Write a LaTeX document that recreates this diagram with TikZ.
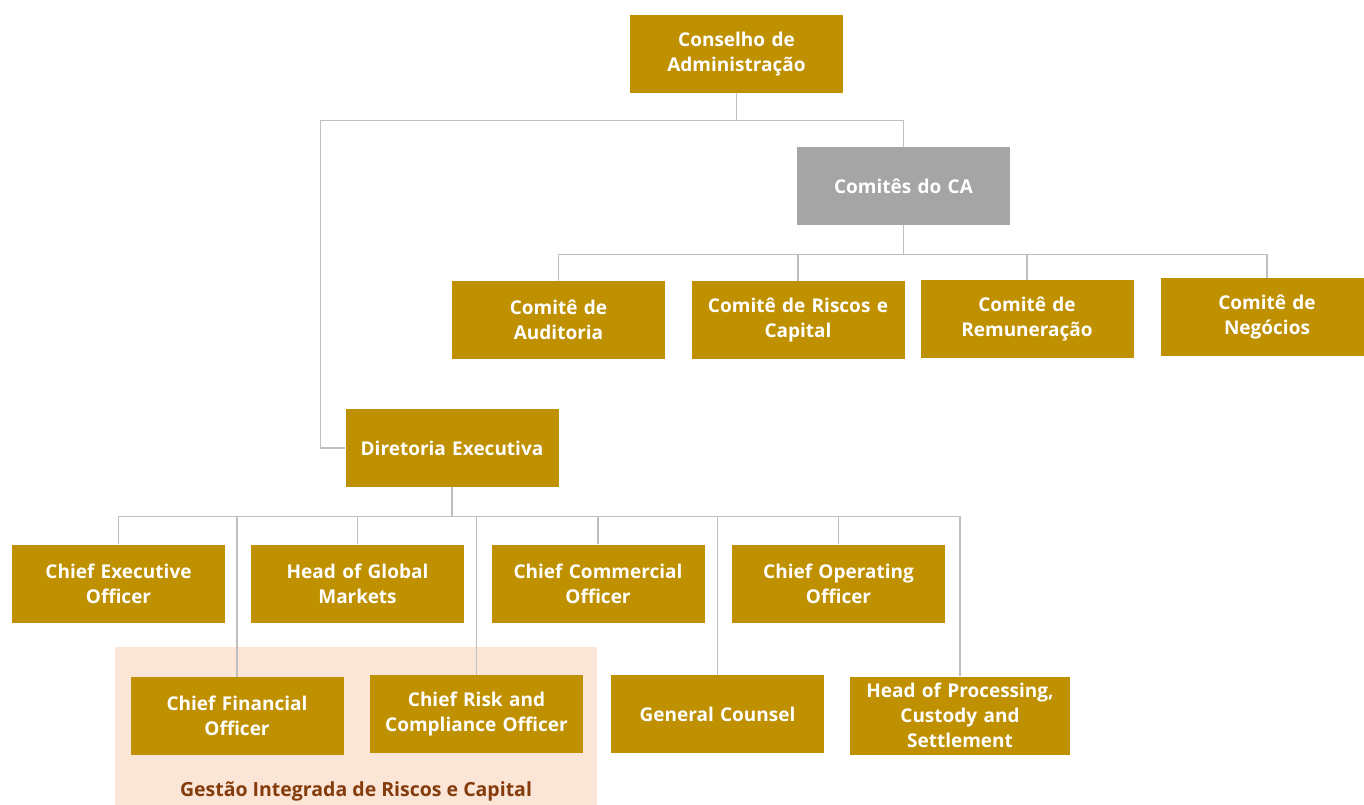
\documentclass[tikz,border=0pt]{standalone}
\usepackage{fontspec}
\setmainfont{Open Sans}
\usepackage{tikz}

\definecolor{gold}{HTML}{BF9000}
\definecolor{greybox}{HTML}{A5A5A5}
\definecolor{rosebg}{HTML}{FBE5D6}
\definecolor{brownlbl}{HTML}{843C0C}
\definecolor{linegrey}{HTML}{BFBFBF}

\begin{document}
\begin{tikzpicture}[x=1pt, y=-1pt,
    orgbox/.style={shape=rectangle, fill=gold, text=white, minimum width=213pt, minimum height=78pt,
        inner sep=0pt, text width=210pt, align=center, font=\fontsize{19}{25}\selectfont\bfseries},
    link/.style={draw=linegrey, line width=1.2pt}]
    \useasboundingbox (0,0) rectangle (1364,805);
    \fill[rosebg] (115,647) rectangle (597,805);
    \node[text=brownlbl, font=\fontsize{19.5}{22}\selectfont\bfseries] (gestao) at (356,791) {Gestão Integrada de Riscos e Capital};

    \node[orgbox] (cons) at (736.5,54) {Conselho de\\Administração};
    \node[orgbox, fill=greybox] (comca) at (903.5,186) {Comitês do CA};
    \node[orgbox] (aud) at (558.5,320) {Comitê de\\Auditoria};
    \node[orgbox] (risc) at (798,320) {Comitê de Riscos e\\Capital};
    \node[orgbox] (rem) at (1027,319) {Comitê de\\Remuneração};
    \node[orgbox] (neg) at (1267,317) {Comitê de\\Negócios};
    \node[orgbox] (dir) at (452,448) {Diretoria Executiva};

    \node[orgbox] (ceo) at (118.5,583.5) {Chief Executive\\Officer};
    \node[orgbox] (hgm) at (357.5,583.5) {Head of Global\\Markets};
    \node[orgbox] (cco) at (598,583.5) {Chief Commercial\\Officer};
    \node[orgbox] (coo) at (838.5,583.5) {Chief Operating\\Officer};
    \node[orgbox] (cfo) at (237,716) {Chief Financial\\Officer};
    \node[orgbox] (crco) at (476.5,714) {Chief Risk and\\Compliance Officer};
    \node[orgbox] (gc) at (717.5,714) {General Counsel};
    \node[orgbox, minimum width=220pt, text width=216pt] (hpcs) at (960,715.5) {Head of Processing,\\Custody and\\Settlement};

    \draw[link] (cons.south) -- ++(0,27) -| (comca.north);
    \draw[link] (cons.south) -- ++(0,27) -| ([xshift=-25pt]dir.west) -- (dir.west);
    \foreach \c in {aud,risc,rem,neg}
        \draw[link] (comca.south) -- ++(0,29) -| (\c.north);
    \foreach \e in {ceo,hgm,cco,coo,cfo,crco,gc,hpcs}
        \draw[link] (dir.south) -- ++(0,29) -| (\e.north);
\end{tikzpicture}
\end{document}
